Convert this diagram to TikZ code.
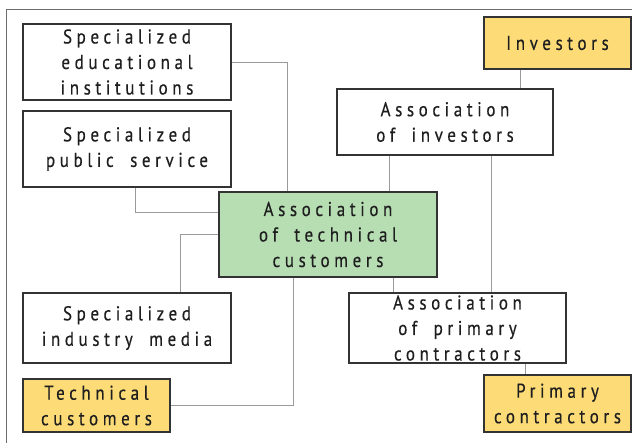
\documentclass[tikz,border=0pt]{standalone}
\usepackage{fontspec}
\setmainfont[LetterSpace=23,FakeStretch=0.85,WordSpace=1.8,FakeBold=0.4]{PT Sans}
\definecolor{boxline}{HTML}{333333}
\definecolor{connline}{HTML}{9A9A9A}
\definecolor{greenfill}{HTML}{B7DDB3}
\definecolor{yellowfill}{HTML}{FDDC78}
\definecolor{txt}{HTML}{1E1E1E}
\begin{document}
\begin{tikzpicture}[x=1pt,y=-1pt,
  box/.style={draw=boxline, line width=1.1pt, fill=white, inner sep=0pt, align=center,
    text=txt, font=\fontsize{20}{25.5}\selectfont},
  gbox/.style={box, fill=greenfill},
  ybox/.style={box, fill=yellowfill},
  conn/.style={draw=connline, line width=0.9pt}]
\useasboundingbox (0,0) rectangle (632,443);
\draw[draw=gray!85!black, line width=0.9pt] (6,9) rectangle (640,450);
\node[box, minimum width=208pt, minimum height=76pt] (edu) at (127,62) {Specialized\\educational\\institutions};
\node[box, minimum width=208pt, minimum height=76pt] (pub) at (127,149) {Specialized\\public service};
\node[gbox, minimum width=218pt, minimum height=85pt] (green) at (328,234.5) {Association\\of technical\\customers};
\node[ybox, minimum width=147pt, minimum height=52pt] (inv) at (557.5,43) {Investors};
\node[box, minimum width=216pt, minimum height=66pt] (ainv) at (445,122) {Association\\of investors};
\node[box, minimum width=208pt, minimum height=70pt] (media) at (127,328) {Specialized\\industry media};
\node[ybox, minimum width=147pt, minimum height=53pt] (tech) at (96.5,405.5) {Technical\\customers};
\node[box, minimum width=217pt, minimum height=70pt] (aprim) at (457.5,328) {Association\\of primary\\contractors};
\node[ybox, minimum width=147pt, minimum height=57pt] (prim) at (557.5,403.5) {Primary\\contractors};
\draw[conn] (edu.east) -| ([xshift=-41pt]green.north);
\draw[conn] ([xshift=8pt]pub.south) |- ([yshift=22.5pt]green.west);
\draw[conn] (green.west) -| ([xshift=53pt]media.north);
\draw[conn] ([xshift=-35pt]green.south) |- (tech.east);
\draw[conn] ([xshift=-37.5pt]inv.south) -- ([xshift=-37.5pt]inv.south |- ainv.north);
\draw[conn] ([xshift=-56pt]ainv.south) -- ([xshift=-56pt]ainv.south |- green.north);
\draw[conn] ([xshift=46pt]ainv.south) -- ([xshift=46pt]ainv.south |- aprim.north);
\draw[conn] ([xshift=65pt]green.south) -- ([xshift=65pt]green.south |- aprim.north);
\draw[conn] ([xshift=67.5pt]aprim.south) -- ([xshift=67.5pt]aprim.south |- prim.north);
\end{tikzpicture}
\end{document}
